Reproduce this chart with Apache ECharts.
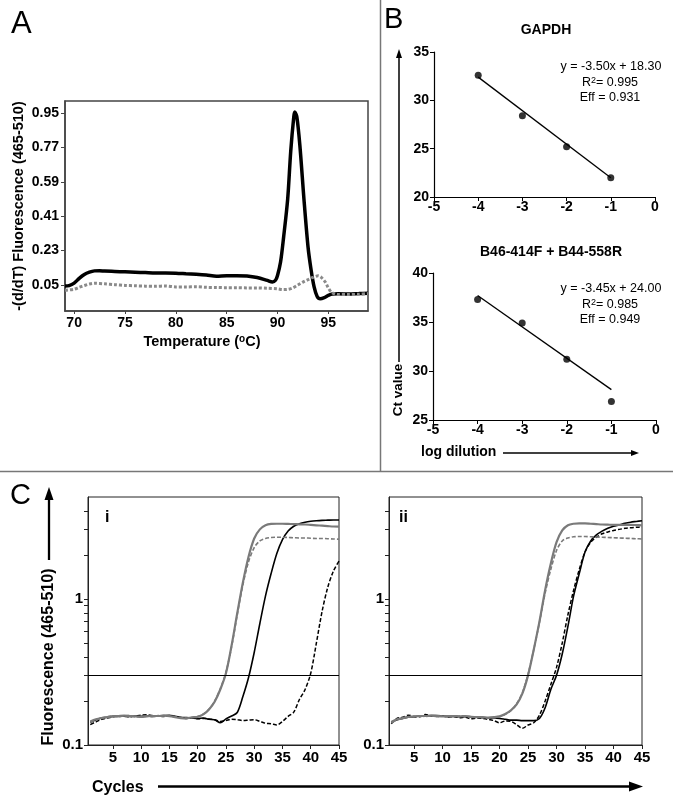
<!DOCTYPE html>
<html><head><meta charset="utf-8">
<script src="https://cdn.jsdelivr.net/npm/echarts@6/dist/echarts.min.js"></script>
<style>html,body{margin:0;padding:0;background:#fff}#c{width:673px;height:810px}</style>
</head><body><div id="c"></div>
<script>
const FONT = '"Liberation Sans", Arial, Helvetica, sans-serif';

// ---------- Panel A : melting curves ----------
const meltTempSample = [69.1,69.5,70,70.5,71,71.5,72,72.5,73,74,75,76,77,78,79,80,81,82,83,84,85,86,87,88,89,89.5,89.8,90,90.3,90.6,91,91.3,91.6,91.7,91.9,92.2,92.6,93,93.3,93.6,93.9,94.2,94.6,95,95.4,96,97,98,98.9];
const meltSample = [0.045,0.047,0.06,0.085,0.105,0.117,0.124,0.125,0.123,
  0.121,0.119,0.117,0.115,0.113,0.113,0.112,0.109,0.106,0.102,0.096,0.099,0.099,0.097,0.089,0.074,
  0.066,0.075,0.1,0.17,0.3,
  0.5,0.75,0.93,0.955,0.93,
  0.78,0.5,0.25,0.13,0.04,
  -0.01,-0.022,-0.016,-0.004,0.003,
  0.004,0.003,0.005,0.007];
const meltTempNeg = [69.1,70,70.5,71,71.5,72,73,74,75,76,77,78,79,80,81,82,83,84,85,86,87,88,89,90,90.5,91,91.5,92,92.5,93,93.5,94,94.3,94.7,95,95.3,95.7,96,97,98,98.9];
const meltNeg = [0.022,0.028,0.038,0.047,0.055,0.059,
  0.056,0.052,0.048,0.046,0.044,0.043,0.045,0.040,0.040,0.041,0.038,0.037,0.036,0.036,0.035,0.035,0.033,0.030,
  0.026,0.027,0.035,0.050,0.065,0.078,0.090,0.098,
  0.090,0.065,0.035,0.012,0.002,0.000,
  0.000,0.002,0.005];
const meltTicks = [0.05,0.23,0.41,0.59,0.77,0.95];
const tempTicks = [70,75,80,85,90,95];

// ---------- Panel B : standard curves ----------
const logDilution = [-4,-3,-2,-1];
const ctGapdh = [32.6,28.4,25.2,22.0];
const ctB46 = [37.3,34.9,31.2,26.9];
const fitX = [-4,-1];
const fitGapdh = [32.4,22.0];
const fitB46 = [37.7,28.1];
const eqGapdh = ['y = -3.50x + 18.30','0.995','Eff = 0.931'];
const eqB46 = ['y = -3.45x + 24.00','0.985','Eff = 0.949'];

// ---------- Panel C : amplification curves ----------
const cycles = [1,2,3,4,5,6,7,8,9,10,11,12,13,14,15,16,17,18,19,20,21,22,23,24,25,26,27,28,29,30,31,32,33,34,35,36,37,38,39,40,41,42,43,44,45];
const cycleTicks = [5,10,15,20,25,30,35,40,45];
const fluorTicks = [0.1,0.2,0.3,0.4,0.5,0.6,0.7,0.8,0.9,1,2,3,4];
const fluorLabels = [0.1,1];
const threshold = 0.3;

const greySolidI = [0.145,0.150,0.153,0.155,0.157,0.158,0.159,0.158,0.157,0.156,
 0.157,0.158,0.158,0.159,0.158,0.155,0.153,0.152,0.155,0.156,
 0.162,0.175,0.198,0.240,0.310,0.480,0.800,1.30,1.95,2.60,
 3.00,3.20,3.27,3.28,3.28,3.27,3.26,3.25,3.24,3.22,
 3.20,3.18,3.16,3.14,3.13];
const greyDashedI = [0.143,0.149,0.152,0.156,0.158,0.157,0.158,0.159,0.156,0.157,
 0.158,0.157,0.159,0.158,0.157,0.156,0.154,0.153,0.154,0.157,
 0.163,0.176,0.200,0.243,0.315,0.47,0.78,1.25,1.80,2.25,
 2.50,2.60,2.64,2.65,2.65,2.64,2.63,2.62,2.62,2.61,
 2.60,2.60,2.59,2.58,2.57];
const blackSolidI = [0.143,0.149,0.153,0.155,0.157,0.157,0.158,0.157,0.158,0.157,
 0.158,0.157,0.158,0.159,0.160,0.157,0.155,0.154,0.153,0.152,
 0.153,0.150,0.149,0.142,0.151,0.158,0.167,0.215,0.29,0.43,
 0.68,1.05,1.50,2.05,2.55,2.92,3.15,3.28,3.36,3.41,
 3.44,3.46,3.47,3.48,3.48];
const blackDashedI = [0.138,0.144,0.150,0.153,0.156,0.158,0.157,0.156,0.158,0.160,
 0.161,0.159,0.158,0.157,0.158,0.156,0.154,0.152,0.153,0.151,
 0.152,0.151,0.149,0.145,0.147,0.150,0.149,0.147,0.148,0.149,
 0.145,0.141,0.140,0.137,0.145,0.157,0.168,0.205,0.24,0.31,
 0.50,0.82,1.20,1.55,1.82];
const greySolidII = [0.144,0.150,0.153,0.156,0.157,0.158,0.158,0.159,0.158,0.157,
 0.157,0.158,0.157,0.158,0.156,0.155,0.155,0.154,0.155,0.157,
 0.163,0.173,0.190,0.225,0.300,0.45,0.70,1.15,1.75,2.45,
 2.95,3.20,3.28,3.30,3.30,3.28,3.26,3.24,3.23,3.22,
 3.22,3.22,3.22,3.21,3.20];
const greyDashedII = [0.142,0.148,0.152,0.155,0.157,0.158,0.157,0.158,0.157,0.158,
 0.156,0.157,0.158,0.156,0.155,0.156,0.154,0.153,0.154,0.156,
 0.162,0.172,0.192,0.228,0.305,0.45,0.69,1.10,1.60,2.15,
 2.50,2.62,2.67,2.68,2.68,2.67,2.66,2.65,2.64,2.63,
 2.62,2.61,2.60,2.59,2.58];
const blackSolidII = [0.143,0.149,0.152,0.155,0.156,0.158,0.158,0.159,0.159,0.158,
 0.157,0.157,0.156,0.156,0.155,0.155,0.154,0.153,0.153,0.152,
 0.150,0.148,0.148,0.147,0.147,0.147,0.152,0.180,0.24,0.30,
 0.42,0.65,1.05,1.50,2.10,2.50,2.75,2.92,3.05,3.15,
 3.22,3.30,3.36,3.40,3.44];
const blackDashedII = [0.140,0.152,0.155,0.160,0.157,0.156,0.162,0.158,0.157,0.158,
 0.155,0.157,0.154,0.155,0.151,0.153,0.152,0.150,0.147,0.142,
 0.146,0.145,0.138,0.130,0.137,0.142,0.160,0.200,0.26,0.34,
 0.50,0.78,1.15,1.60,2.10,2.45,2.65,2.80,2.88,2.95,
 3.00,3.05,3.08,3.10,3.12];

// ---------- helpers ----------
const zip = (xs, ys) => xs.map((x, i) => [x, ys[i]]);
const lbl = (size, extra) => Object.assign({color:'#000', fontWeight:'bold', fontSize:size, fontFamily:FONT}, extra || {});
const blackAxis = (w, c) => ({show:true, onZero:false, lineStyle:{color:c || '#000', width:w}});

function cAxes(gi) {
  return {
    x: {gridIndex:gi, type:'value', min:0.6, max:45,
      axisLine: blackAxis(1, '#222'),
      axisTick:{show:true, length:4, customValues:cycleTicks, lineStyle:{color:'#222'}},
      axisLabel: lbl(15, {customValues:cycleTicks, margin:5}),
      splitLine:{show:false}},
    y: {gridIndex:gi, type:'log', logBase:10, min:0.1, max:5,
      axisLine: blackAxis(1, '#222'),
      axisTick:{show:true, length:4, customValues:fluorTicks, lineStyle:{color:'#222'}},
      axisLabel: lbl(15, {customValues:fluorLabels, margin:5, formatter: v => String(+v.toPrecision(2))}),
      splitLine:{show:false}, minorTick:{show:false}}
  };
}
const cI = cAxes(3), cII = cAxes(4);

function cSeries(gi, arr, color, width, dash, withThreshold) {
  const s = {type:'line', xAxisIndex:gi, yAxisIndex:gi, data: zip(cycles, arr), showSymbol:false,
    smooth:0.3, lineStyle:{color:color, width:width, type:dash || 'solid'}, silent:true};
  if (withThreshold) {
    s.markLine = {silent:true, symbol:['none','none'], label:{show:false}, animation:false,
      lineStyle:{color:'#000', width:1, type:'solid'}, data:[{yAxis: threshold}]};
  }
  return s;
}

function eqGraphics(lines, cx, y0) {
  const st = {fill:'#000', fontSize:12.5, fontFamily:FONT, textAlign:'center', textVerticalAlign:'middle'};
  return [
    {type:'text', x:cx, y:y0, style:Object.assign({text:lines[0]}, st)},
    {type:'text', x:cx-1, y:y0+16, style:Object.assign({text:'R{s|2}= ' + lines[1],
       rich:{s:{fontSize:9, fontFamily:FONT, fill:'#000', verticalAlign:'top'}}}, st)},
    {type:'text', x:cx-1, y:y0+31, style:Object.assign({text:lines[2]}, st)}
  ];
}

const chart = echarts.init(document.getElementById('c'), null, {renderer:'canvas'});

const option = {
  animation:false,
  backgroundColor:'#fff',
  textStyle:{fontFamily:FONT},
  grid:[
    {left:65, top:101, width:303, height:210, show:true, borderColor:'#444', borderWidth:1.5, backgroundColor:'transparent'},
    {left:434, top:52, width:221, height:145},
    {left:433, top:273, width:223, height:147},
    {left:88, top:497, width:251, height:248, show:true, borderColor:'#222', borderWidth:1, backgroundColor:'transparent'},
    {left:389, top:497, width:253, height:248, show:true, borderColor:'#222', borderWidth:1, backgroundColor:'transparent'}
  ],
  xAxis:[
    {gridIndex:0, type:'value', min:69.1, max:98.9,
      axisLine: blackAxis(1.5, '#444'),
      axisTick:{show:true, length:3, customValues:tempTicks, lineStyle:{color:'#444'}},
      axisLabel: lbl(14, {customValues:tempTicks, margin:5}),
      splitLine:{show:false}},
    {gridIndex:1, type:'value', min:-5, max:0, interval:1,
      axisLine: blackAxis(1.2), axisTick:{show:true, length:4, lineStyle:{color:'#000'}},
      axisLabel: lbl(14, {margin:3}), splitLine:{show:false}},
    {gridIndex:2, type:'value', min:-5, max:0, interval:1,
      axisLine: blackAxis(1.2), axisTick:{show:true, length:4, lineStyle:{color:'#000'}},
      axisLabel: lbl(14, {margin:3}), splitLine:{show:false}},
    cI.x, cII.x
  ],
  yAxis:[
    {gridIndex:0, type:'value', min:-0.086, max:1.013,
      axisLine: blackAxis(1.5, '#444'),
      axisTick:{show:true, length:4, customValues:meltTicks, lineStyle:{color:'#444'}},
      axisLabel: lbl(14, {customValues:meltTicks, margin:6, formatter: v => (+v).toFixed(2)}),
      splitLine:{show:false}},
    {gridIndex:1, type:'value', min:20, max:35, interval:5,
      axisLine: blackAxis(1.2), axisTick:{show:true, length:4, lineStyle:{color:'#000'}},
      axisLabel: lbl(14, {margin:5}), splitLine:{show:false}},
    {gridIndex:2, type:'value', min:25, max:40, interval:5,
      axisLine: blackAxis(1.2), axisTick:{show:true, length:4, lineStyle:{color:'#000'}},
      axisLabel: lbl(14, {margin:5}), splitLine:{show:false}},
    cI.y, cII.y
  ],
  series:[
    // Panel A
    {type:'line', xAxisIndex:0, yAxisIndex:0, data: zip(meltTempSample, meltSample), showSymbol:false,
      smooth:0.3, lineStyle:{color:'#000', width:3.5}, silent:true},
    {type:'line', xAxisIndex:0, yAxisIndex:0, data: zip(meltTempNeg, meltNeg), showSymbol:false,
      smooth:0.3, lineStyle:{color:'#8a8a8a', width:3, type:[3,2]}, silent:true},
    // Panel B top
    {type:'line', xAxisIndex:1, yAxisIndex:1, data: zip(fitX, fitGapdh), showSymbol:false,
      lineStyle:{color:'#000', width:1.3}, silent:true},
    {type:'scatter', xAxisIndex:1, yAxisIndex:1, data: zip(logDilution, ctGapdh), symbol:'circle', symbolSize:7,
      itemStyle:{color:'#000'}, silent:true},
    // Panel B bottom
    {type:'line', xAxisIndex:2, yAxisIndex:2, data: zip(fitX, fitB46), showSymbol:false,
      lineStyle:{color:'#000', width:1.3}, silent:true},
    {type:'scatter', xAxisIndex:2, yAxisIndex:2, data: zip(logDilution, ctB46), symbol:'circle', symbolSize:7,
      itemStyle:{color:'#000'}, silent:true},
    // Panel C i
    cSeries(3, blackDashedI, '#000', 1.5, [4,2]),
    cSeries(3, blackSolidI, '#000', 1.6),
    cSeries(3, greyDashedI, '#7a7a7a', 1.6, [4,2]),
    cSeries(3, greySolidI, '#7a7a7a', 2.2, null, true),
    // Panel C ii
    cSeries(4, blackDashedII, '#000', 1.5, [4,2]),
    cSeries(4, blackSolidII, '#000', 1.6),
    cSeries(4, greyDashedII, '#7a7a7a', 1.6, [4,2]),
    cSeries(4, greySolidII, '#7a7a7a', 2.2, null, true)
  ],
  graphic:[
    // dividers
    {type:'line', shape:{x1:380.5, y1:0, x2:380.5, y2:471}, style:{stroke:'#777', lineWidth:1.5}},
    {type:'line', shape:{x1:0, y1:471.5, x2:673, y2:471.5}, style:{stroke:'#777', lineWidth:1.5}},
    // panel letters
    {type:'text', x:11, y:24, style:{text:'A', fontSize:31, fontFamily:FONT, fill:'#000', textAlign:'left', textVerticalAlign:'middle'}},
    {type:'text', x:384, y:20, style:{text:'B', fontSize:29, fontFamily:FONT, fill:'#000', textAlign:'left', textVerticalAlign:'middle'}},
    {type:'text', x:10, y:496, style:{text:'C', fontSize:29, fontFamily:FONT, fill:'#000', textAlign:'left', textVerticalAlign:'middle'}},
    // Panel A axis names
    {type:'text', x:19, y:206, rotation:Math.PI/2, style:{text:'-(d/dT) Fluorescence (465-510)', fontSize:14.5, fontWeight:'bold', fontFamily:FONT, fill:'#000', textAlign:'center', textVerticalAlign:'middle'}},
    {type:'text', x:202, y:342, style:{text:'Temperature ({s|o}C)', fontSize:14.5, fontWeight:'bold', fontFamily:FONT, fill:'#000', textAlign:'center', textVerticalAlign:'middle',
       rich:{s:{fontSize:10, fontWeight:'bold', fontFamily:FONT, fill:'#000', verticalAlign:'top'}}}},
    // Panel B titles
    {type:'text', x:546, y:30, style:{text:'GAPDH', fontSize:14, fontWeight:'bold', fontFamily:FONT, fill:'#000', textAlign:'center', textVerticalAlign:'middle'}},
    {type:'text', x:551, y:252, style:{text:'B46-414F + B44-558R', fontSize:14, fontWeight:'bold', fontFamily:FONT, fill:'#000', textAlign:'center', textVerticalAlign:'middle'}},
    ...eqGraphics(eqGapdh, 611, 67),
    ...eqGraphics(eqB46, 611, 289),
    // Ct value arrow
    {type:'line', shape:{x1:399, y1:362, x2:399, y2:56}, style:{stroke:'#000', lineWidth:1.5}},
    {type:'polygon', shape:{points:[[399,49],[396,58],[402,58]]}, style:{fill:'#000'}},
    {type:'text', x:398, y:390, rotation:Math.PI/2, style:{text:'Ct value', fontSize:13.5, fontWeight:'bold', fontFamily:FONT, fill:'#000', textAlign:'center', textVerticalAlign:'middle'}},
    // log dilution arrow
    {type:'text', x:421, y:452, style:{text:'log dilution', fontSize:14, fontWeight:'bold', fontFamily:FONT, fill:'#000', textAlign:'left', textVerticalAlign:'middle'}},
    {type:'line', shape:{x1:503, y1:453, x2:632, y2:453}, style:{stroke:'#000', lineWidth:1.3}},
    {type:'polygon', shape:{points:[[639,453],[631,450],[631,456]]}, style:{fill:'#000'}},
    // Panel C labels
    {type:'line', shape:{x1:49, y1:560, x2:49, y2:496}, style:{stroke:'#000', lineWidth:2.3}},
    {type:'polygon', shape:{points:[[49,487],[44.5,500],[53.5,500]]}, style:{fill:'#000'}},
    {type:'text', x:49, y:657, rotation:Math.PI/2, style:{text:'Fluorescence (465-510)', fontSize:16, fontWeight:'bold', fontFamily:FONT, fill:'#000', textAlign:'center', textVerticalAlign:'middle'}},
    {type:'text', x:92, y:788, style:{text:'Cycles', fontSize:16, fontWeight:'bold', fontFamily:FONT, fill:'#000', textAlign:'left', textVerticalAlign:'middle'}},
    {type:'line', shape:{x1:158, y1:786.5, x2:632, y2:786.5}, style:{stroke:'#000', lineWidth:2.5}},
    {type:'polygon', shape:{points:[[643,786.5],[629,781.5],[629,791.5]]}, style:{fill:'#000'}},
    {type:'text', x:105, y:518, style:{text:'i', fontSize:16, fontWeight:'bold', fontFamily:FONT, fill:'#000', textAlign:'left', textVerticalAlign:'middle'}},
    {type:'text', x:399, y:518, style:{text:'ii', fontSize:16, fontWeight:'bold', fontFamily:FONT, fill:'#000', textAlign:'left', textVerticalAlign:'middle'}}
  ]
};
chart.setOption(option);
</script>
</body></html>
